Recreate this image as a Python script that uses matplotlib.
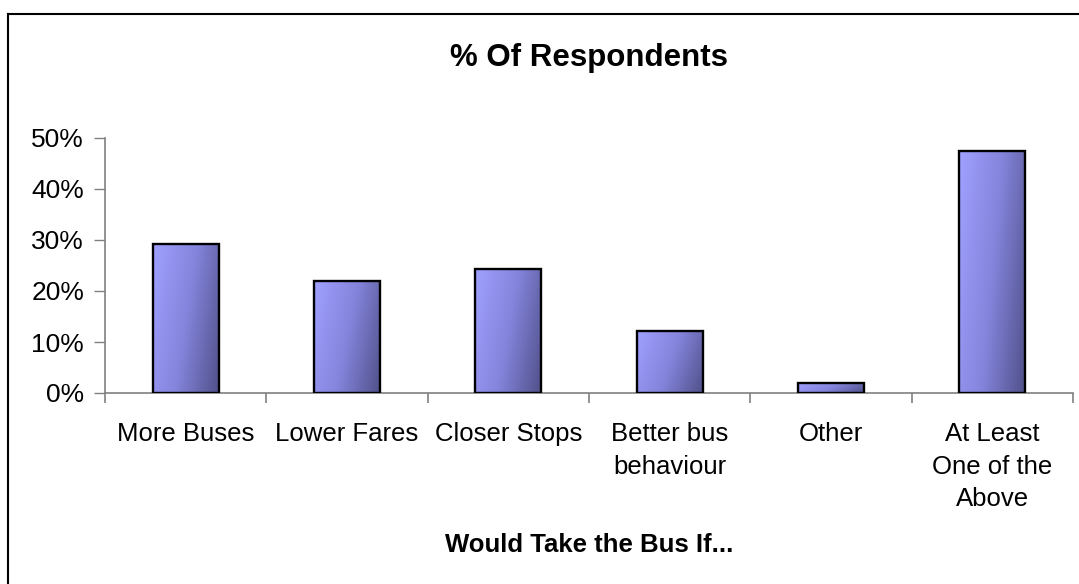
"""
Bar chart: % of respondents who would take the bus if...
"""

import matplotlib.pyplot as plt
import numpy as np
from matplotlib.colors import LinearSegmentedColormap
from matplotlib.lines import Line2D
from matplotlib.ticker import FuncFormatter

categories = [
    "More Buses",
    "Lower Fares",
    "Closer Stops",
    "Better bus\nbehaviour",
    "Other",
    "At Least\nOne of the\nAbove",
]
percent = [29.2, 22.0, 24.4, 12.2, 2.0, 47.5]

title = "% Of Respondents"
x_title = "Would Take the Bus If..."


def main() -> None:
    plt.rcParams["font.family"] = ["Liberation Sans", "DejaVu Sans"]

    W, H = 1079, 584
    fig = plt.figure(figsize=(W / 100, H / 100), dpi=100)
    fig.patch.set_facecolor("white")

    ax = fig.add_axes([105 / W, 1 - 393 / H, (1073 - 105) / W, (393 - 138) / H])

    x = np.arange(len(categories))
    values = np.asarray(percent, dtype=float) / 100.0
    bars = ax.bar(x, values, width=0.41, facecolor="none",
                  edgecolor="black", linewidth=1.7, zorder=3)

    # shaded fill: lighter upper-left, darker lower-right
    cmap = LinearSegmentedColormap.from_list(
        "bar", ["#a0a0ff", "#8484dc", "#50508a"])
    gx = np.linspace(0, 1, 64)
    gy = np.linspace(0, 1, 64)
    gxx, gyy = np.meshgrid(gx, gy)
    grad = 0.75 * gxx + 0.25 * gyy
    for bar in bars:
        x0, w = bar.get_x(), bar.get_width()
        h = bar.get_height()
        im = ax.imshow(grad, cmap=cmap, vmin=0, vmax=1, aspect="auto",
                       extent=(x0, x0 + w, 0, h), origin="upper", zorder=2,
                       interpolation="bilinear")
        im.set_clip_path(bar)

    ax.set_xlim(-0.5, len(categories) - 0.5)
    ax.set_ylim(0, 0.5)
    ax.set_yticks(np.arange(0, 0.51, 0.1))
    ax.yaxis.set_major_formatter(FuncFormatter(lambda v, _: f"{v * 100:.0f}%"))

    ax.set_xticks(x)
    ax.set_xticklabels(categories, linespacing=1.45, va="top")
    ax.set_xticks(np.arange(-0.5, len(categories), 1.0), minor=True)

    ax.tick_params(axis="y", length=8, width=1, color="#808080",
                   labelsize=19, pad=7)
    ax.tick_params(axis="x", which="major", length=0, labelsize=18.5, pad=21)
    ax.tick_params(axis="x", which="minor", length=7, width=1.2,
                   color="#808080")

    for side in ("top", "right"):
        ax.spines[side].set_visible(False)
    for side in ("left", "bottom"):
        ax.spines[side].set_color("#808080")
        ax.spines[side].set_linewidth(1.2)
    ax.set_facecolor("none")

    fig.text(589 / W, 1 - 58 / H, title, ha="center", va="center",
             fontsize=22.5, fontweight="bold")
    fig.text(589 / W, 1 - 545 / H, x_title, ha="center", va="center",
             fontsize=18.5, fontweight="bold")

    # chart frame (top and left edges visible)
    fig.add_artist(Line2D([8 / W, 1], [1 - 14 / H, 1 - 14 / H],
                          transform=fig.transFigure, color="black", lw=1.5))
    fig.add_artist(Line2D([8 / W, 8 / W], [1 - 14 / H, 0],
                          transform=fig.transFigure, color="black", lw=1.5))

    fig.savefig("out.png", dpi=100)


if __name__ == "__main__":
    main()
